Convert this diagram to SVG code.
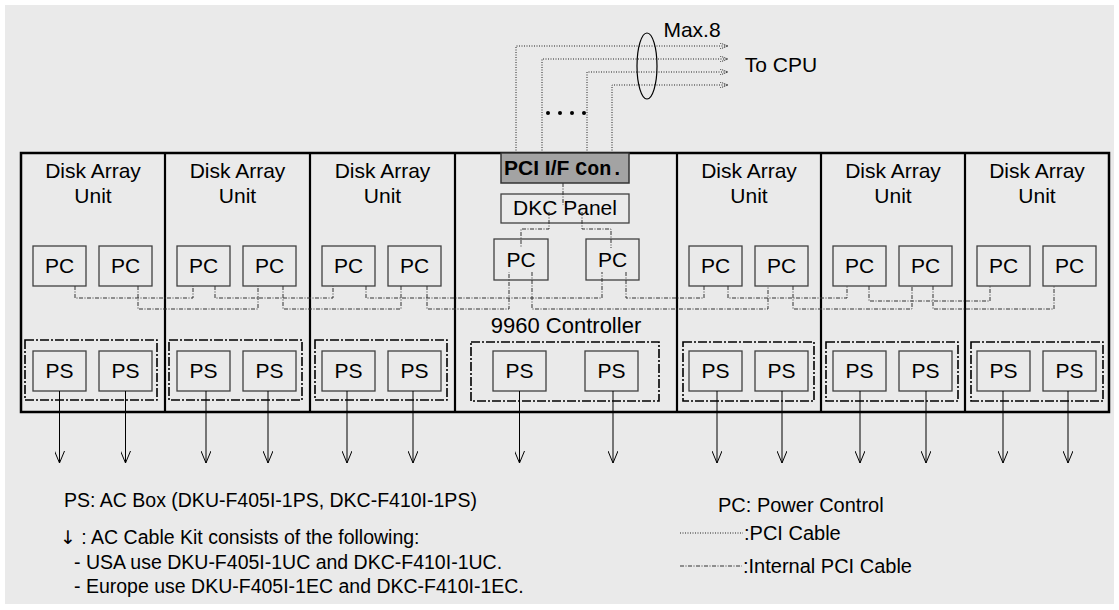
<svg xmlns="http://www.w3.org/2000/svg" width="1119" height="610" viewBox="0 0 1119 610">
<defs>
<style>
.bg{fill:#eaeaea;stroke:none}
.frame{fill:none;stroke:#000;stroke-width:2.5}
.div{stroke:#000;stroke-width:2.2}
.box{fill:#eaeaea;stroke:#404040;stroke-width:1.3}
.grp{fill:none;stroke:#000;stroke-width:1.6;stroke-dasharray:9,2,2,2}
.t{font-family:"Liberation Sans",Arial,sans-serif;font-size:21px;fill:#000;text-anchor:middle}
.lg{font-family:"Liberation Sans",Arial,sans-serif;font-size:20px;fill:#000}
.ipci{fill:none;stroke:#333;stroke-width:1;stroke-dasharray:4,1.5,1,1.5}
.pci{fill:none;stroke:#222;stroke-width:1;stroke-dasharray:1,1.5}
.ac{fill:none;stroke:#000;stroke-width:1}
</style>
<marker id="acArrow" viewBox="0 0 12 10" refX="12" refY="5" markerWidth="12" markerHeight="10" markerUnits="userSpaceOnUse" orient="auto">
<path d="M0,0 L12,5 L0,10" fill="none" stroke="#000" stroke-width="1"/>
</marker>
<marker id="pciArrow" viewBox="0 0 8 6" refX="8" refY="3" markerWidth="8" markerHeight="6" markerUnits="userSpaceOnUse" orient="auto">
<path d="M0,0 L8,3 L0,6" fill="none" stroke="#222" stroke-width="1" stroke-dasharray="1,1"/>
</marker>
</defs>

<rect class="bg" x="5" y="5" width="1109" height="599"/>

<g id="cabinet">
<rect class="frame" x="21" y="153" width="1088" height="259"/>
<line class="div" x1="165" y1="153" x2="165" y2="412"/>
<line class="div" x1="310" y1="153" x2="310" y2="412"/>
<line class="div" x1="455" y1="153" x2="455" y2="412"/>
<line class="div" x1="677" y1="153" x2="677" y2="412"/>
<line class="div" x1="821" y1="153" x2="821" y2="412"/>
<line class="div" x1="965" y1="153" x2="965" y2="412"/>
</g>

<g id="dau1">
<text class="t" x="93" y="178">Disk Array</text><text class="t" x="93" y="203">Unit</text>
<g id="dau1-pc1"><rect class="box" x="33" y="246" width="53" height="40"/><text class="t" x="59.5" y="273">PC</text></g>
<g id="dau1-pc2"><rect class="box" x="99" y="246" width="53" height="40"/><text class="t" x="125.5" y="273">PC</text></g>
<rect class="grp" x="25" y="340" width="132" height="60"/>
<g id="dau1-ps1"><rect class="box" x="33" y="351" width="53" height="40"/><text class="t" x="59.5" y="378">PS</text></g>
<g id="dau1-ps2"><rect class="box" x="99" y="351" width="53" height="40"/><text class="t" x="125.5" y="378">PS</text></g>
</g>

<g id="dau2">
<text class="t" x="237.5" y="178">Disk Array</text><text class="t" x="237.5" y="203">Unit</text>
<g id="dau2-pc1"><rect class="box" x="177" y="246" width="53" height="40"/><text class="t" x="203.5" y="273">PC</text></g>
<g id="dau2-pc2"><rect class="box" x="243" y="246" width="53" height="40"/><text class="t" x="269.5" y="273">PC</text></g>
<rect class="grp" x="169" y="340" width="133" height="60"/>
<g id="dau2-ps1"><rect class="box" x="177" y="351" width="53" height="40"/><text class="t" x="203.5" y="378">PS</text></g>
<g id="dau2-ps2"><rect class="box" x="243" y="351" width="53" height="40"/><text class="t" x="269.5" y="378">PS</text></g>
</g>

<g id="dau3">
<text class="t" x="382.5" y="178">Disk Array</text><text class="t" x="382.5" y="203">Unit</text>
<g id="dau3-pc1"><rect class="box" x="322" y="246" width="53" height="40"/><text class="t" x="348.5" y="273">PC</text></g>
<g id="dau3-pc2"><rect class="box" x="388" y="246" width="53" height="40"/><text class="t" x="414.5" y="273">PC</text></g>
<rect class="grp" x="315" y="340" width="132" height="60"/>
<g id="dau3-ps1"><rect class="box" x="322" y="351" width="53" height="40"/><text class="t" x="348.5" y="378">PS</text></g>
<g id="dau3-ps2"><rect class="box" x="388" y="351" width="53" height="40"/><text class="t" x="414.5" y="378">PS</text></g>
</g>

<g id="controller">
<g id="pci-if"><rect x="501" y="153" width="128" height="30" fill="#a3a3a3" stroke="#333" stroke-width="1.5"/>
<text x="504" y="175" style="font-family:'Liberation Sans',Arial,sans-serif;font-size:21px;font-weight:bold;fill:#000">PCI I/F <tspan style="font-family:'Liberation Mono','Courier New',monospace;font-size:20px">Con.</tspan></text></g>
<g id="dkc-panel"><rect class="box" x="501" y="194" width="128" height="29"/><text class="t" x="565" y="215">DKC Panel</text></g>
<g id="ctl-pc1"><rect class="box" x="494" y="239" width="54" height="41"/><text class="t" x="521" y="267">PC</text></g>
<g id="ctl-pc2"><rect class="box" x="586" y="239" width="53" height="41"/><text class="t" x="612.5" y="267">PC</text></g>
<text class="t" x="566" y="333" style="font-size:22px">9960 Controller</text>
<rect class="grp" x="471" y="342" width="188" height="59"/>
<g id="ctl-ps1"><rect class="box" x="493" y="351" width="53" height="40"/><text class="t" x="519.5" y="378">PS</text></g>
<g id="ctl-ps2"><rect class="box" x="585" y="351" width="53" height="40"/><text class="t" x="611.5" y="378">PS</text></g>
</g>

<g id="dau5">
<text class="t" x="749" y="178">Disk Array</text><text class="t" x="749" y="203">Unit</text>
<g id="dau5-pc1"><rect class="box" x="689" y="246" width="53" height="40"/><text class="t" x="715.5" y="273">PC</text></g>
<g id="dau5-pc2"><rect class="box" x="755" y="246" width="53" height="40"/><text class="t" x="781.5" y="273">PC</text></g>
<rect class="grp" x="683" y="342" width="131" height="59"/>
<g id="dau5-ps1"><rect class="box" x="689" y="351" width="53" height="40"/><text class="t" x="715.5" y="378">PS</text></g>
<g id="dau5-ps2"><rect class="box" x="755" y="351" width="53" height="40"/><text class="t" x="781.5" y="378">PS</text></g>
</g>

<g id="dau6">
<text class="t" x="893" y="178">Disk Array</text><text class="t" x="893" y="203">Unit</text>
<g id="dau6-pc1"><rect class="box" x="833" y="246" width="53" height="40"/><text class="t" x="859.5" y="273">PC</text></g>
<g id="dau6-pc2"><rect class="box" x="899" y="246" width="53" height="40"/><text class="t" x="925.5" y="273">PC</text></g>
<rect class="grp" x="826" y="342" width="132" height="59"/>
<g id="dau6-ps1"><rect class="box" x="833" y="351" width="53" height="40"/><text class="t" x="859.5" y="378">PS</text></g>
<g id="dau6-ps2"><rect class="box" x="899" y="351" width="53" height="40"/><text class="t" x="925.5" y="378">PS</text></g>
</g>

<g id="dau7">
<text class="t" x="1037" y="178">Disk Array</text><text class="t" x="1037" y="203">Unit</text>
<g id="dau7-pc1"><rect class="box" x="977" y="246" width="53" height="40"/><text class="t" x="1003.5" y="273">PC</text></g>
<g id="dau7-pc2"><rect class="box" x="1043" y="246" width="53" height="40"/><text class="t" x="1069.5" y="273">PC</text></g>
<rect class="grp" x="971" y="342" width="132" height="59"/>
<g id="dau7-ps1"><rect class="box" x="977" y="351" width="53" height="40"/><text class="t" x="1003.5" y="378">PS</text></g>
<g id="dau7-ps2"><rect class="box" x="1043" y="351" width="53" height="40"/><text class="t" x="1069.5" y="378">PS</text></g>
</g>

<g id="connectors">
<path class="ipci" d="M75,286V298H193V286"/>
<path class="ipci" d="M215,286V298H333V286"/>
<path class="ipci" d="M366,286V298H602V272"/>
<path class="ipci" d="M626,272V298H704V286"/>
<path class="ipci" d="M728,286V298H847V286"/>
<path class="ipci" d="M869,286V301H990V286"/>
<path class="ipci" d="M138,286V309H258V286"/>
<path class="ipci" d="M283,286V309H401V286"/>
<path class="ipci" d="M427,286V309H509V272"/>
<path class="ipci" d="M532,272V309H768V286"/>
<path class="ipci" d="M793,286V309H912V286"/>
<path class="ipci" d="M933,286V309H1054V286"/>
<path class="ipci" d="M563,183V205"/>
<path class="ipci" d="M549,212V229H521V248"/>
<path class="ipci" d="M582,212V229H611V248"/>
<path class="pci" d="M516,153V46H728" marker-end="url(#pciArrow)"/>
<path class="pci" d="M542,153V59H728" marker-end="url(#pciArrow)"/>
<path class="pci" d="M587,153V72H728" marker-end="url(#pciArrow)"/>
<path class="pci" d="M612,153V85H728" marker-end="url(#pciArrow)"/>
<ellipse cx="647" cy="66" rx="10" ry="33" fill="none" stroke="#000" stroke-width="1.2"/>
<circle cx="548" cy="113" r="2" fill="#000"/><circle cx="560" cy="113" r="2" fill="#000"/><circle cx="572" cy="113" r="2" fill="#000"/><circle cx="584" cy="113" r="2" fill="#000"/>
<path class="ac" d="M59.5,391V463" marker-end="url(#acArrow)"/>
<path class="ac" d="M125.5,391V463" marker-end="url(#acArrow)"/>
<path class="ac" d="M206,391V463" marker-end="url(#acArrow)"/>
<path class="ac" d="M268,391V463" marker-end="url(#acArrow)"/>
<path class="ac" d="M347,391V463" marker-end="url(#acArrow)"/>
<path class="ac" d="M413,391V463" marker-end="url(#acArrow)"/>
<path class="ac" d="M519.5,391V463" marker-end="url(#acArrow)"/>
<path class="ac" d="M613,391V463" marker-end="url(#acArrow)"/>
<path class="ac" d="M717,391V463" marker-end="url(#acArrow)"/>
<path class="ac" d="M782,391V463" marker-end="url(#acArrow)"/>
<path class="ac" d="M860,391V463" marker-end="url(#acArrow)"/>
<path class="ac" d="M926,391V463" marker-end="url(#acArrow)"/>
<path class="ac" d="M1003,391V463" marker-end="url(#acArrow)"/>
<path class="ac" d="M1068,391V463" marker-end="url(#acArrow)"/>
</g>

<text class="t" x="692" y="37">Max.8</text>
<text class="t" x="781" y="72">To CPU</text>

<g id="legend">
<text class="lg" x="64" y="507" style="font-size:19.5px">PS: AC Box (DKU-F405I-1PS, DKC-F410I-1PS)</text>
<text class="lg" x="60" y="544" style="font-size:19.5px"><tspan style="font-family:'DejaVu Sans',sans-serif;font-size:19px;fill:#000">↓</tspan> : AC Cable Kit consists of the following:</text>
<text class="lg" x="74" y="569" style="font-size:19.5px">- USA use DKU-F405I-1UC and DKC-F410I-1UC.</text>
<text class="lg" x="74" y="593" style="font-size:19.5px">- Europe use DKU-F405I-1EC and DKC-F410I-1EC.</text>
<text class="lg" x="718" y="512">PC: Power Control</text>
<path class="pci" d="M680,533H743"/>
<text class="lg" x="744" y="540">:PCI Cable</text>
<path class="ipci" d="M680,566H742"/>
<text class="lg" x="743" y="573">:Internal PCI Cable</text>
</g>
</svg>
